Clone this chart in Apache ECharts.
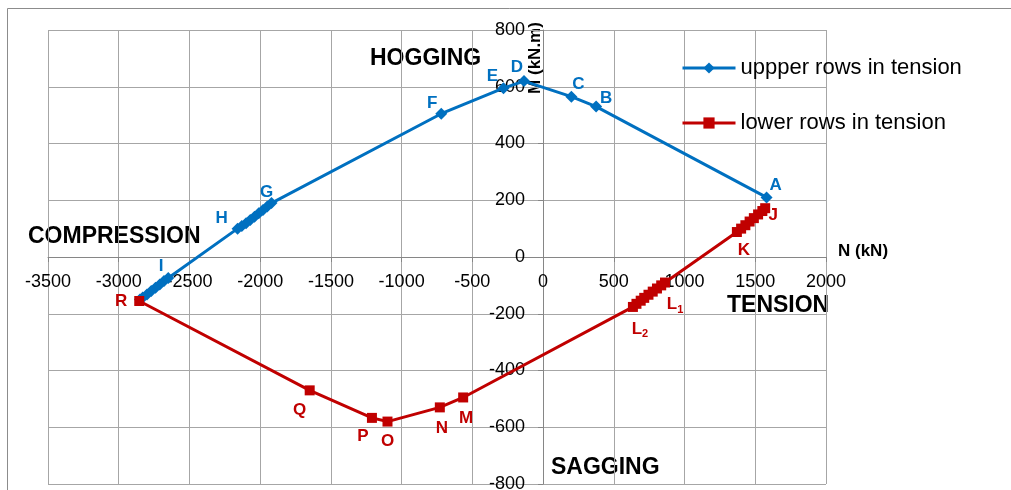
<!DOCTYPE html>
<html>
<head>
<meta charset="utf-8">
<script src="https://cdn.jsdelivr.net/npm/echarts@6.0.0/dist/echarts.min.js"></script>
<style>
html,body{margin:0;padding:0;background:#fff;}
#chart{width:1011px;height:490px;}
</style>
</head>
<body>
<div id="chart"></div>
<script>
// ---- data ----
const upperN = [1580, 375, 200, -135, -280, -720, -1920, -1950, -1980, -2010, -2040, -2070, -2100, -2130, -2160, -2650, -2680, -2710, -2740, -2770, -2800, -2830, -2850];
const upperM = [210, 530, 565, 620, 595, 505, 190, 178, 166, 154, 142, 130, 119, 109, 100, -74, -85, -97, -108, -120, -132, -143, -150];
const upperNames = ['A','B','C','D','E','F','G','','','','','','','','H','I','','','','','','',''];

const lowerN = [1570, 1550, 1520, 1490, 1460, 1430, 1400, 1370, 862, 835, 805, 775, 745, 715, 690, 660, 635, -565, -730, -1100, -1210, -1650, -2855];
const lowerM = [172, 162, 150, 137, 125, 112, 100, 88, -90, -100, -111, -122, -133, -144, -154, -165, -176, -495, -530, -580, -567, -470, -155];
const lowerNames = ['J','','','','','','','K','L1','','','','','','','','L2','M','N','O','P','Q','R'];

const seriesNames = ['uppper rows in tension', 'lower rows in tension'];
const xAxisTitle = 'N (kN)';
const yAxisTitle = 'M (kN.m)';
const regionTexts = ['HOGGING', 'COMPRESSION', 'TENSION', 'SAGGING'];
const xMin = -3500, xMax = 2000, xStep = 500;
const yMin = -800, yMax = 800, yStep = 200;

// ---- styling / layout ----
const BLUE = '#0070C0', RED = '#C00000';
const GRID = { left: 48, right: 185, top: 30, bottom: 6 };
const W = 1011, H = 490;
const labelOffsets = {A:[9,-12],B:[10,-8],C:[7,-12],D:[-7,-14],E:[-11,-12],F:[-9,-10],G:[-5,-11],H:[-16,-10],I:[-7,-12],
  R:[-18,0],Q:[-10,20],P:[-9,18],O:[0,20],N:[2,21],M:[3,21],L2:[7,22],L1:[10,22],K:[7,18],J:[8,7]};

function buildData(ns, ms, names, color) {
  return ns.map((n, i) => {
    const item = { value: [n, ms[i]] };
    const nm = names[i];
    if (nm) {
      const off = labelOffsets[nm] || [0, 0];
      const sub = nm.length > 1;
      item.label = {
        show: true,
        position: 'inside',
        offset: off,
        align: 'center',
        verticalAlign: 'middle',
        formatter: sub ? ('{b|' + nm[0] + '}{s|' + nm.slice(1) + '}') : '{b|' + nm + '}',
        rich: {
          b: { fontFamily: 'Liberation Sans, Arial, sans-serif', fontWeight: 'bold', fontSize: 17, color: color },
          s: { fontFamily: 'Liberation Sans, Arial, sans-serif', fontWeight: 'bold', fontSize: 11, color: color, padding: [10, 0, 0, 0] }
        }
      };
    }
    return item;
  });
}

// axis offsets so the axes cross at zero (grid inner size)
const plotW = W - GRID.left - GRID.right;
const plotH = H - GRID.top - GRID.bottom;
const yAxisOffset = -((0 - xMin) / (xMax - xMin)) * plotW;   // move left axis right to N=0
const xAxisOffset = -((0 - yMin) / (yMax - yMin)) * plotH;   // move bottom axis up to M=0

const chart = echarts.init(document.getElementById('chart'), null, { renderer: 'canvas' });
const FONT = 'Liberation Sans, Arial, sans-serif';
const GRID_COLOR = '#a6a6a6';

const option = {
  animation: false,
  backgroundColor: '#fff',
  grid: Object.assign({ containLabel: false, outerBoundsMode: 'none' }, GRID),
  legend: {
    orient: 'vertical',
    left: 676,
    top: 52,
    itemWidth: 53,
    itemHeight: 14,
    itemGap: 33,
    lineStyle: { width: 3 },
    textStyle: { fontFamily: FONT, fontSize: 22, color: '#000' },
    data: seriesNames
  },
  xAxis: {
    type: 'value',
    min: xMin, max: xMax, interval: xStep,
    position: 'bottom',
    offset: xAxisOffset,
    axisLine: { onZero: false, lineStyle: { color: '#868686', width: 1 } },
    axisTick: { show: true, inside: false, length: 5, lineStyle: { color: '#868686' } },
    axisLabel: { margin: 16, fontFamily: FONT, fontSize: 18, color: '#000', formatter: v => String(v), showMinLabel: true, showMaxLabel: true },
    splitLine: { show: true, lineStyle: { color: GRID_COLOR, width: 1 } }
  },
  yAxis: {
    type: 'value',
    min: yMin, max: yMax, interval: yStep,
    position: 'left',
    offset: yAxisOffset,
    axisLine: { onZero: false, lineStyle: { color: '#868686', width: 1 } },
    axisTick: { show: true, length: 5, lineStyle: { color: '#868686' } },
    axisLabel: { margin: 18, fontFamily: FONT, fontSize: 18, color: '#000', formatter: v => String(v), showMinLabel: true, showMaxLabel: true },
    splitLine: { show: true, lineStyle: { color: GRID_COLOR, width: 1 } }
  },
  series: [
    {
      name: seriesNames[0], type: 'line',
      data: buildData(upperN, upperM, upperNames, BLUE),
      symbol: 'diamond', symbolSize: 12,
      lineStyle: { color: BLUE, width: 3 },
      itemStyle: { color: BLUE },
      z: 3
    },
    {
      name: seriesNames[1], type: 'line',
      data: buildData(lowerN, lowerM, lowerNames, RED),
      symbol: 'rect', symbolSize: 10,
      lineStyle: { color: RED, width: 3 },
      itemStyle: { color: RED },
      z: 4
    }
  ],
  graphic: [
    { type: 'rect', shape: { x: 7.5, y: 8.5, width: 1100, height: 600 }, style: { fill: 'none', stroke: '#8c8c8c', lineWidth: 1 }, silent: true, z: -10 },
    { type: 'text', left: 370, top: 47, style: { text: regionTexts[0], fontFamily: FONT, fontWeight: 'bold', fontSize: 23, fill: '#000' } },
    { type: 'text', left: 28, top: 225, style: { text: regionTexts[1], fontFamily: FONT, fontWeight: 'bold', fontSize: 23, fill: '#000' } },
    { type: 'text', left: 727, top: 294, style: { text: regionTexts[2], fontFamily: FONT, fontWeight: 'bold', fontSize: 23, fill: '#000' } },
    { type: 'text', left: 551, top: 456, style: { text: regionTexts[3], fontFamily: FONT, fontWeight: 'bold', fontSize: 23, fill: '#000' } },
    { type: 'text', left: 838, top: 243, style: { text: xAxisTitle, fontFamily: FONT, fontWeight: 'bold', fontSize: 17, fill: '#000' } },
    { type: 'text', x: 535, y: 58, rotation: Math.PI / 2, style: { text: yAxisTitle, fontFamily: FONT, fontWeight: 'bold', fontSize: 17, fill: '#000', align: 'center', verticalAlign: 'middle' } }
  ]
};
chart.setOption(option);
</script>
</body>
</html>
